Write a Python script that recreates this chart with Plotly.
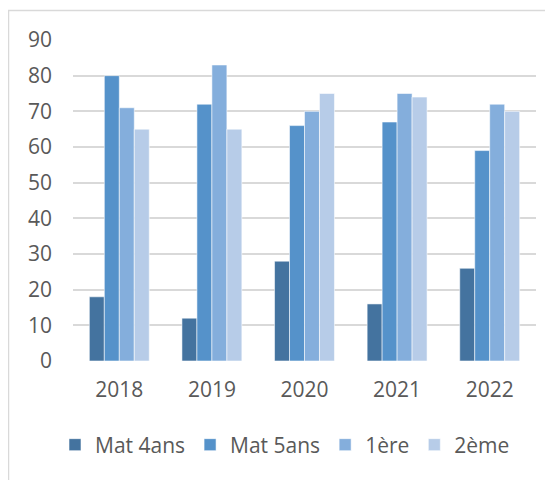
import plotly.graph_objects as go

years = ["2018", "2019", "2020", "2021", "2022"]
series_names = ["Mat 4ans", "Mat 5ans", "1ère", "2ème"]
mat4 = [18, 12, 28, 16, 26]
mat5 = [80, 72, 66, 67, 59]
premiere = [71, 83, 70, 75, 72]
deuxieme = [65, 65, 75, 74, 70]
colors = ["#44739F", "#5592CA", "#84AEDC", "#B7CCE8"]

# page has an 8px body margin; figure coordinates are page coordinates minus 8
OFF = 8
W, H = 545, 472
L, T = 73 - OFF, 40 - OFF
R = W - (536 - OFF)
B = H - (361 - OFF)
pw, ph = W - L - R, H - T - B

fig = go.Figure()
for name, vals, col in zip(series_names, [mat4, mat5, premiere, deuxieme], colors):
    fig.add_trace(go.Bar(
        x=years, y=vals, name=name,
        marker=dict(color=col, line=dict(color="rgba(255,255,255,0.55)", width=1)),
    ))

font_family = "Open Sans, Lato, Liberation Sans, sans-serif"
txt = "#595959"
FS = 21

def px_x(p):
    return (p - OFF - L) / pw

def px_y(p):
    return (H - B - (p - OFF)) / ph

fig.update_layout(
    width=W, height=H,
    margin=dict(l=L, r=R, t=T, b=B, autoexpand=False),
    paper_bgcolor="white", plot_bgcolor="white",
    barmode="group", bargap=0.353, bargroupgap=0,
    font=dict(family=font_family, size=FS, color=txt),
    showlegend=True,
    legend=dict(
        orientation="h", x=px_x(285), xanchor="center",
        y=px_y(445), yanchor="middle",
        font=dict(size=FS, color=txt), itemwidth=30, tracegroupgap=0,
        bgcolor="rgba(0,0,0,0)",
    ),
    shapes=[dict(
        type="rect", xref="paper", yref="paper",
        x0=px_x(8.5), x1=px_x(580), y0=px_y(520), y1=px_y(10.5),
        line=dict(color="#D9D9D9", width=1.5), fillcolor="rgba(0,0,0,0)",
        layer="below",
    )],
)
fig.update_xaxes(
    showgrid=False, zeroline=False, showline=False, ticks="",
    tickfont=dict(size=FS, color=txt), ticklabelstandoff=14,
)
fig.update_yaxes(
    range=[0, 90], dtick=10, tick0=0,
    showgrid=True, gridcolor="#D9D9D9", gridwidth=1.5,
    zeroline=False, showline=False, ticks="",
    tickfont=dict(size=FS, color=txt), ticklabelstandoff=20,
)

fig.write_html("out.html")
